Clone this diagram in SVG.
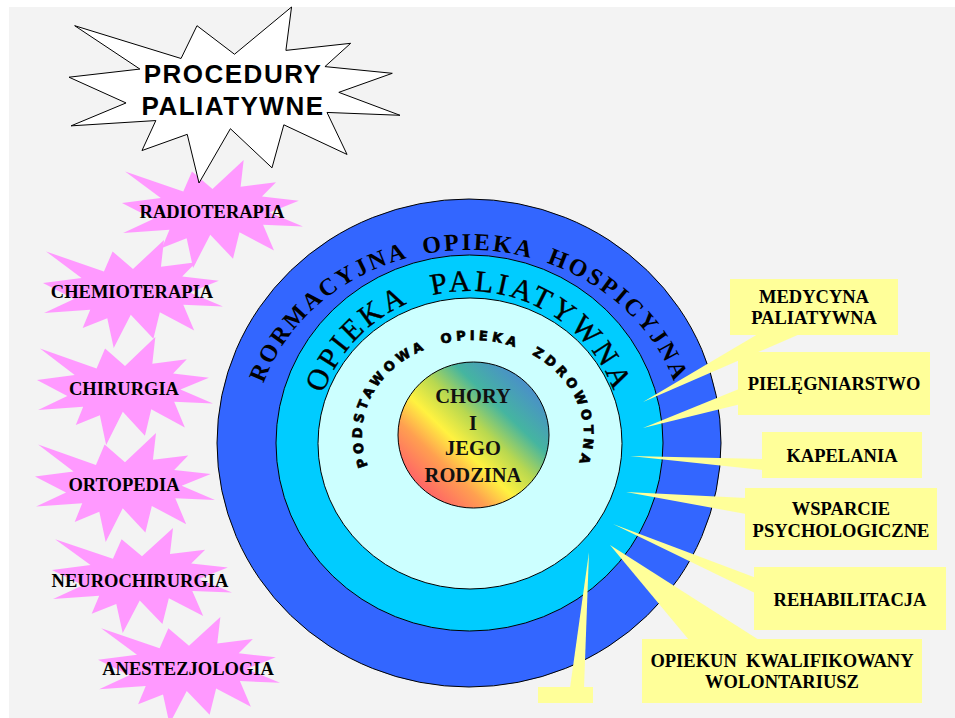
<svg xmlns="http://www.w3.org/2000/svg" width="955" height="718" viewBox="0 0 955 718">
<style>
.ring{stroke:#000;stroke-width:1}
.lbl{font-family:"Liberation Serif","Times New Roman",serif;font-weight:bold;font-size:18.5px;fill:#000;text-anchor:middle;white-space:pre}
.call{fill:#FFFF99}
.pink{fill:#FF99FF}
.arc1{font-family:"Liberation Serif","Times New Roman",serif;font-weight:bold;font-size:24px;letter-spacing:2.6px;word-spacing:7px;fill:#000}
.arc2{font-family:"Liberation Serif","Times New Roman",serif;font-size:30px;letter-spacing:3.3px;word-spacing:14px;fill:#000;stroke:#000;stroke-width:0.4px}
.arc3{font-family:"DejaVu Sans",sans-serif;font-weight:bold;font-size:13px;letter-spacing:4px;word-spacing:6px;fill:#000;stroke:#000;stroke-width:0.7px}
.center{font-family:"Liberation Serif","Times New Roman",serif;font-weight:bold;font-size:20.5px;fill:#111;text-anchor:middle}
.title{font-family:"Liberation Sans",Arial,sans-serif;font-weight:bold;font-size:26px;letter-spacing:1.5px;fill:#000;text-anchor:middle}
</style>
<defs>
<filter id="granite" x="0" y="0" width="100%" height="100%" filterUnits="objectBoundingBox">
<feTurbulence type="fractalNoise" baseFrequency="1.0" numOctaves="2" seed="7" result="n"/>
<feColorMatrix in="n" type="matrix" values="0.7 0 0 0 0.55  0.7 0 0 0 0.55  0.7 0 0 0 0.55  0 0 0 0 1"/>
</filter>
<linearGradient id="core" x1="0" y1="1" x2="1" y2="0">
<stop offset="0.15" stop-color="#FF6666"/>
<stop offset="0.3" stop-color="#FFA050"/>
<stop offset="0.42" stop-color="#FFF240"/>
<stop offset="0.55" stop-color="#B8D850"/>
<stop offset="0.68" stop-color="#45B5A0"/>
<stop offset="0.85" stop-color="#4A90C8"/>
</linearGradient>
<path id="boom" vector-effect="non-scaling-stroke" d="M10800,5800 L14522,0 L14155,5325 L18380,4457 L16702,7315 L21097,8137 L17607,10475 L21600,13290 L16837,12942 L18145,18095 L14020,14457 L13247,19737 L10532,14935 L8485,21600 L7715,15627 L4762,17617 L5667,13937 L135,14587 L3722,11775 L0,8615 L4627,7617 L370,2295 L7312,6320 L8352,2295 Z"/>
<path id="p1" d="M469,636 A216,193 0 0 1 469,250 A216,193 0 0 1 469,636"/>
<path id="p2" d="M469,595 A154,152 0 0 1 469,291 A154,152 0 0 1 469,595"/>
<path id="p3" d="M473,530 A111,95 0 0 1 473,340 A111,95 0 0 1 473,530"/>
</defs>

<rect x="0" y="0" width="955" height="718" fill="#FFFFFF"/>
<rect x="9" y="7" width="946" height="711" filter="url(#granite)"/>

<g id="rings">
<ellipse class="ring" cx="469" cy="443" rx="252" ry="244" fill="#3366FF"/>
<ellipse class="ring" cx="469.5" cy="443" rx="193.5" ry="188" fill="#00CCFF"/>
<ellipse class="ring" cx="470" cy="443.5" rx="152" ry="145.5" fill="#CCFFFF"/>
<text class="arc1"><textPath href="#p1" startOffset="50%" text-anchor="middle">RORMACYJNA OPIEKA HOSPICYJNA</textPath></text>
<text class="arc2"><textPath href="#p2" startOffset="50%" text-anchor="middle">OPIEKA PALIATYWNA</textPath></text>
<text class="arc3"><textPath href="#p3" startOffset="50%" text-anchor="middle">PODSTAWOWA OPIEKA ZDROWOTNA</textPath></text>
</g>

<g id="core-node">
<ellipse class="ring" cx="473.5" cy="435" rx="75.5" ry="73" fill="url(#core)"/>
<text class="center" x="473" y="403">CHORY</text>
<text class="center" x="473" y="430">I</text>
<text class="center" x="473" y="455">JEGO</text>
<text class="center" x="473" y="482">RODZINA</text>
</g>

<g id="radioterapia">
<use href="#boom" class="pink" transform="translate(122,160) scale(0.0083796,0.005)"/>
<text class="lbl" x="212" y="218">RADIOTERAPIA</text>
</g>
<g id="chemioterapia">
<use href="#boom" class="pink" transform="translate(43,240) scale(0.0083333,0.005)"/>
<text class="lbl" x="132" y="298">CHEMIOTERAPIA</text>
</g>
<g id="chirurgia">
<use href="#boom" class="pink" transform="translate(37,337) scale(0.0081481,0.005)"/>
<text class="lbl" x="124" y="395">CHIRURGIA</text>
</g>
<g id="ortopedia">
<use href="#boom" class="pink" transform="translate(35,433) scale(0.0083333,0.0050463)"/>
<text class="lbl" x="124" y="491">ORTOPEDIA</text>
</g>
<g id="neurochirurgia">
<use href="#boom" class="pink" transform="translate(52,528) scale(0.0083333,0.0048611)"/>
<text class="lbl" x="140" y="587">NEUROCHIRURGIA</text>
</g>
<g id="anestezjologia">
<use href="#boom" class="pink" transform="translate(98,617) scale(0.0084259,0.0049537)"/>
<text class="lbl" x="188" y="675">ANESTEZJOLOGIA</text>
</g>

<g id="procedury">
<use href="#boom" fill="#FFFFFF" stroke="#000" stroke-width="1" transform="translate(69,7) scale(0.015324,0.0081481)"/>
<text class="title" x="233" y="83">PROCEDURY</text>
<text class="title" x="233" y="115">PALIATYWNE</text>
</g>

<g id="connectors">
<polygon class="call" points="758,334 800,334 643,402"/>
<polygon class="call" points="739,389 739,404.5 643,428"/>
<polygon class="call" points="763,459 763,470 630,456"/>
<polygon class="call" points="746,498 746,514 626,492"/>
<polygon class="call" points="755,577.5 755,593 613,524"/>
<polygon class="call" points="689,640 759,640 610,545"/>
<polygon class="call" points="570,688 584,688 589,552"/>
</g>

<g id="medycyna">
<rect class="call" x="730" y="279" width="168" height="56"/>
<text class="lbl" x="814" y="303">MEDYCYNA</text>
<text class="lbl" x="814" y="324">PALIATYWNA</text>
</g>
<g id="pielegniarstwo">
<rect class="call" x="738" y="352" width="192" height="63"/>
<text class="lbl" x="834" y="390">PIELĘGNIARSTWO</text>
</g>
<g id="kapelania">
<rect class="call" x="762" y="432" width="160" height="46"/>
<text class="lbl" x="842" y="462">KAPELANIA</text>
</g>
<g id="wsparcie">
<rect class="call" x="745" y="488" width="192" height="62"/>
<text class="lbl" x="841" y="515">WSPARCIE</text>
<text class="lbl" x="841" y="537">PSYCHOLOGICZNE</text>
</g>
<g id="rehabilitacja">
<rect class="call" x="754" y="567" width="192" height="63"/>
<text class="lbl" x="850" y="606">REHABILITACJA</text>
</g>
<g id="opiekun">
<rect class="call" x="642" y="639" width="280" height="64"/>
<text class="lbl" x="782" y="667">OPIEKUN  KWALIFIKOWANY</text>
<text class="lbl" x="782" y="688">WOLONTARIUSZ</text>
</g>
<g id="blank-callout">
<rect class="call" x="538" y="687" width="55" height="16"/>
</g>
</svg>
